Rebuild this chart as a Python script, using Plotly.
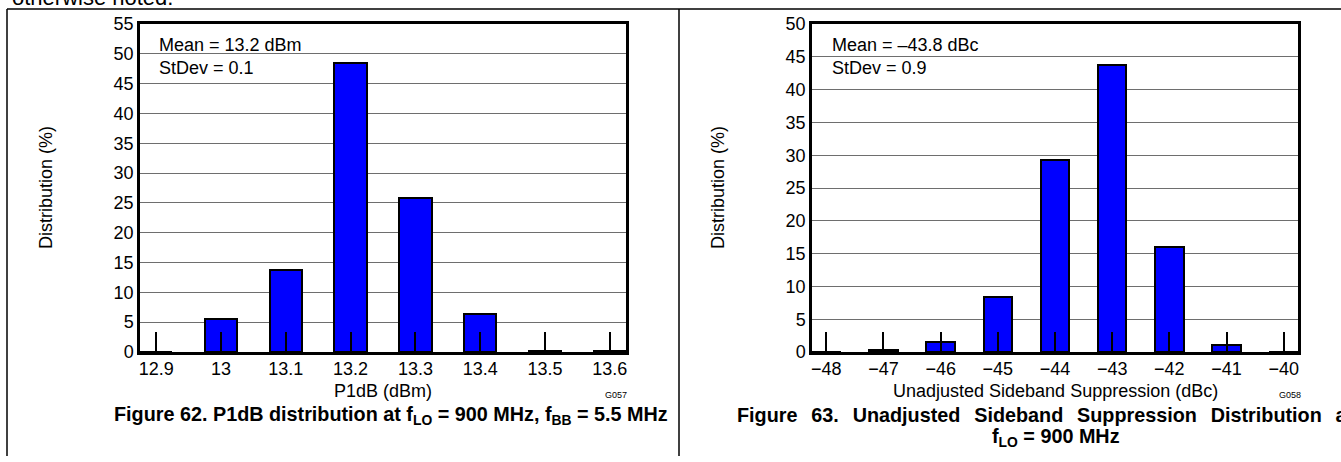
import plotly.graph_objects as go

# ---- data ----
p1db_bins = [12.9, 13.0, 13.1, 13.2, 13.3, 13.4, 13.5, 13.6]
p1db_labels = ["12.9", "13", "13.1", "13.2", "13.3", "13.4", "13.5", "13.6"]
p1db_pct = [0.0, 5.6, 13.8, 48.4, 25.8, 6.4, 0.2, 0.1]

ssb_bins = [-48, -47, -46, -45, -44, -43, -42, -41, -40]
ssb_pct = [0.0, 0.3, 1.6, 8.4, 29.3, 43.7, 16.0, 1.1, 0.0]

W, H = 1341, 462
def px(x):
    return x / W
def py(y):
    return 1 - y / H

FONT = "Liberation Sans, Arial, sans-serif"
BLUE = "#0000FF"

fig = go.Figure()
fig.add_trace(go.Bar(x=p1db_bins, y=p1db_pct, width=0.05, xaxis="x", yaxis="y",
                     marker=dict(color=BLUE, line=dict(color="black", width=2)),
                     showlegend=False, hoverinfo="x+y"))
fig.add_trace(go.Bar(x=ssb_bins, y=ssb_pct, width=0.5, xaxis="x2", yaxis="y2",
                     marker=dict(color=BLUE, line=dict(color="black", width=2)),
                     showlegend=False, hoverinfo="x+y"))

common_x = dict(ticks="inside", ticklen=20, tickwidth=2, tickcolor="black",
                showline=True, linewidth=2.5, linecolor="black", mirror=True,
                showgrid=False, zeroline=False, automargin=False,
                tickfont=dict(family=FONT, size=18, color="black"),
                ticklabelstandoff=-1)
common_y = dict(dtick=5, showgrid=True, gridcolor="#6e6e6e", gridwidth=1,
                ticks="", showline=True, linewidth=2.5, linecolor="black", mirror=True,
                zeroline=False, automargin=False,
                tickfont=dict(family=FONT, size=18, color="black"),
                ticklabelstandoff=0)

fig.update_layout(
    width=W, height=H, margin=dict(l=0, r=0, t=0, b=0, pad=0, autoexpand=False),
    paper_bgcolor="white", plot_bgcolor="white", bargap=0,
    xaxis=dict(domain=[px(140), px(626)], range=[12.875, 13.625],
               tickvals=p1db_bins, ticktext=p1db_labels, anchor="y", **common_x),
    yaxis=dict(domain=[py(352), py(24)], range=[0, 55], anchor="x", **common_y),
    xaxis2=dict(domain=[px(812), px(1298)], range=[-48.25, -39.75],
                tickvals=ssb_bins, anchor="y2", **common_x),
    yaxis2=dict(domain=[py(352), py(24)], range=[0, 50], anchor="x2", **common_y),
)

shapes = [
    # white boxes hiding gridlines behind the stats text
    dict(type="rect", xref="paper", yref="paper", x0=px(141.5), x1=px(311), y0=py(97), y1=py(25.5),
         fillcolor="white", line=dict(width=0), layer="between"),
    dict(type="rect", xref="paper", yref="paper", x0=px(813.5), x1=px(987), y0=py(105), y1=py(25.5),
         fillcolor="white", line=dict(width=0), layer="between"),
    # page frame lines
    dict(type="line", xref="paper", yref="paper", x0=px(7), x1=1, y0=py(9), y1=py(9),
         line=dict(color="black", width=1.5)),
    dict(type="line", xref="paper", yref="paper", x0=px(7), x1=px(7), y0=py(9), y1=py(456),
         line=dict(color="black", width=1.5)),
    dict(type="line", xref="paper", yref="paper", x0=px(679), x1=px(679), y0=py(9), y1=py(456),
         line=dict(color="black", width=1.5)),
]
fig.update_layout(shapes=shapes)

def ann(text, x, y, size=18, xanchor="center", yanchor="middle", bold=False, align="center", textangle=0):
    return dict(text=("<b>%s</b>" % text) if bold else text, xref="paper", yref="paper",
                x=px(x), y=py(y), xanchor=xanchor, yanchor=yanchor, showarrow=False,
                align=align, textangle=textangle,
                font=dict(family=FONT, size=size, color="black"))

GAP = "\u2002\u2009"  # widened word gap (justified first caption line)
cap63_line1 = GAP.join(["Figure", "63.", "Unadjusted", "Sideband", "Suppression", "Distribution", "at"])

annotations = [
    ann("otherwise noted.", 10, 12, size=22, xanchor="left", yanchor="bottom"),
    ann("Mean = 13.2 dBm<br>StDev = 0.1", 157, 33, xanchor="left", yanchor="top", align="left"),
    ann("Mean = \u201343.8 dBc<br>StDev = 0.9", 830, 33, xanchor="left", yanchor="top", align="left"),
    ann("Distribution (%)", 46, 188, textangle=-90),
    ann("Distribution (%)", 718, 188, textangle=-90),
    ann("P1dB (dBm)", 383, 391),
    ann("Unadjusted Sideband Suppression (dBc)", 1055, 391),
    ann("G057", 616, 395, size=9),
    ann("G058", 1290, 395, size=9),
    ann("Figure 62. P1dB distribution at f<sub>LO</sub> = 900 MHz, f<sub>BB</sub> = 5.5 MHz",
        391, 415, size=19.8, bold=True),
    ann(cap63_line1, 735, 415, size=19.8, bold=True, xanchor="left"),
    ann("f<sub>LO</sub> = 900 MHz", 1056, 437, size=19.8, bold=True),
]
fig.update_layout(annotations=annotations)

fig.write_html(
    "out.html",
    config={"displayModeBar": False},
    post_script="document.body.style.margin='0';document.body.style.padding='0';"
                "document.body.style.overflow='hidden';",
)
